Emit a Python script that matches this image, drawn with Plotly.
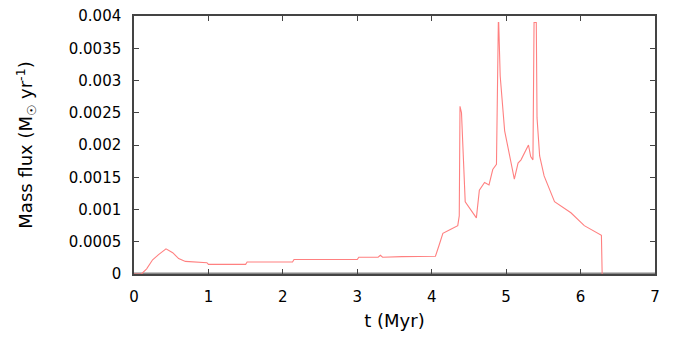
import plotly.graph_objects as go

t_myr = [0.0, 0.1, 0.17, 0.25, 0.33, 0.43, 0.52, 0.6, 0.69, 0.8, 0.98, 1.0, 1.5, 1.52, 2.13, 2.15, 3.0, 3.02, 3.28, 3.31, 3.34, 3.6, 4.05,
         4.1, 4.15, 4.25, 4.35, 4.37, 4.38, 4.4, 4.45, 4.6, 4.64, 4.71, 4.77, 4.82, 4.87, 4.895, 4.9, 4.92, 4.95, 4.98,
         5.11, 5.16, 5.2, 5.27, 5.3, 5.33, 5.36, 5.375, 5.405, 5.415, 5.45, 5.51, 5.65, 5.87, 6.05, 6.28, 6.285, 6.29]
mass_flux = [0.0, 0.0, 0.00008, 0.00022, 0.00030, 0.00039, 0.00033, 0.00024, 0.000195, 0.00019, 0.000175, 0.00015, 0.00015, 0.000185, 0.000185, 0.000225, 0.000225, 0.00026, 0.00026, 0.00029, 0.00026, 0.00027, 0.000275,
             0.00045, 0.00063, 0.00069, 0.00075, 0.0009, 0.0026, 0.0025, 0.00112, 0.00087, 0.0013, 0.00142, 0.00138, 0.00162, 0.0017, 0.0039, 0.0039, 0.00307, 0.00258, 0.00222,
             0.00147, 0.00172, 0.00177, 0.00195, 0.002, 0.00182, 0.00177, 0.0039, 0.0039, 0.00242, 0.00183, 0.00152, 0.00112, 0.00095, 0.00075, 0.0006, 0.0003, 0.0]

x_ticks = [0, 1, 2, 3, 4, 5, 6, 7]
y_ticks = [0, 0.0005, 0.001, 0.0015, 0.002, 0.0025, 0.003, 0.0035, 0.004]
y_tick_labels = ["0", "0.0005", "0.001", "0.0015", "0.002", "0.0025", "0.003", "0.0035", "0.004"]

fig = go.Figure()
fig.add_trace(go.Scatter(x=t_myr, y=mass_flux, mode="lines",
                         line=dict(color="#ff8080", width=1.1), showlegend=False))

fig.add_shape(type="line", xref="x", yref="y", x0=0, x1=7, y0=0, y1=0,
              line=dict(color="#888888", width=3), layer="below")

font = dict(family="DejaVu Sans", size=15, color="black")
fig.update_layout(
    width=675, height=341,
    margin=dict(l=134, r=20, t=7, b=67),
    paper_bgcolor="white", plot_bgcolor="white",
    font=font,
    xaxis=dict(range=[0, 7], tickvals=x_ticks, ticks="inside", ticklen=5, tickcolor="#444",
               showline=True, linecolor="#444", linewidth=1.5, mirror="allticks",
               ticklabelstandoff=8,
               showgrid=False, zeroline=False, title=dict(text="t (Myr)", standoff=10)),
    yaxis=dict(range=[0, 0.004], tickvals=y_ticks, ticktext=y_tick_labels, ticks="inside", ticklen=5, tickcolor="#444",
               showline=True, linecolor="#444", linewidth=1.5, mirror="allticks",
               ticklabelstandoff=8,
               showgrid=False, zeroline=False,
               title=dict(text="Mass flux (M<sub>☉</sub> yr<sup>-1</sup>)", standoff=31)),
)

fig.write_html("out.html")
